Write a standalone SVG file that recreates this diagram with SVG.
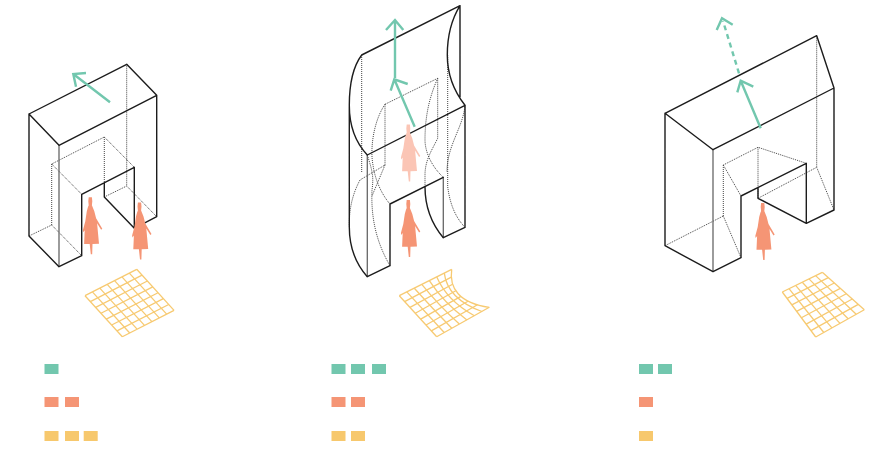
<svg xmlns="http://www.w3.org/2000/svg" width="871" height="453" viewBox="0 0 871 453">
<style>
.s{fill:none;stroke:#1c1c1c;stroke-width:1.4;stroke-linejoin:round;stroke-linecap:round}
.g{fill:none;stroke:#666;stroke-width:1.3}
.d{fill:none;stroke:#444;stroke-width:1;stroke-dasharray:1 1}
.a{fill:none;stroke:#72c7ae;stroke-width:2.4;stroke-linecap:butt;stroke-linejoin:miter}
.ad{stroke-dasharray:5 4}
.y{fill:none;stroke:#f7ca72;stroke-width:1.3;stroke-linejoin:round}
.gr{fill:#72c7ae}.or{fill:#f59575}.ye{fill:#f7c86d}
.p{fill:#f59575}
</style>
<defs>
<path id="person" d="M-1.6,0L1.6,0L2,4L1.6,8L2.4,10L4,14L5.8,21L12,31.5L10.8,32.5L6.8,26L8.7,46.5L2.2,46.8L1.9,57L.5,57L-.6,46.8L-6.2,46.8L-5.6,33L-7,35L-7.4,33L-5,24L-3.5,14L-2.4,10L-1.6,8L-2,4Z"/>
</defs>

<g id="mass-1">
<path class="d" d="M51.7,164L104.3,137L134.3,167.3M51.7,164L81.7,194.3M51.7,164V225M104.3,137V182.7M29,236L51.7,225L81.7,255.7M126.7,64.3V186M104.3,197L126.7,186L156.7,216.7"/>
<path class="g" d="M59,145.3V266.7"/>
<path class="s" d="M29,114L126.7,64.3L156.7,95.3L59,145.3ZM29,114V236L59,266.7L81.7,255.7V194.3L134.3,167.3V228.3L104.3,197V182.7M134.3,228.3L156.7,216.7V95.3"/>
</g>
<g id="people-1">
<use href="#person" class="p" x="90.3" y="197.3"/>
<use href="#person" class="p" x="139.5" y="202.5"/>
</g>
<path id="grid-1" class="y" vector-effect="non-scaling-stroke" transform="matrix(7.39 -3.77 5.33 5.86 85 295.7)" d="M0,0H7M0,1H7M0,2H7M0,3H7M0,4H7M0,5H7M0,6H7M0,7H7M0,0V7M1,0V7M2,0V7M3,0V7M4,0V7M5,0V7M6,0V7M7,0V7"/>

<g id="mass-2">
<path class="d" d="M361.7,55V173M385,104.3L437.7,78.3M385,104.3V165L360,180M385,104.3C373,122 370,150 373,165C375,180 382,195 390,204M437.7,78.3V138.3C432,150 425,160 425,175V186M437.7,78.3C428,100 425,120 425,140C425,150 430,165 443.3,177.3M447.7,55V186.7C450,205 456,218 465,227.3M465,105.3C463,128 447,145 447,172M367.3,155C372,170 374,176 372,190C371,215 375,240 390,265.7M360,180C352,195 349,210 349.3,226.7M385,165L372,196"/>
<path class="g" d="M367.3,155V276.7M443.3,177.3V237.7"/>
<path class="s" d="M361.7,55L460,5.7M465,105.3L367.3,155M361.7,55C352,68 349.3,85 349.3,105.3C349.3,125 355,142 367.3,155M460,5.7C450,22 447.3,38 447.3,55C447.3,75 453,90 465,105.3M460,5.7V97M465,105.3V227.3L443.3,237.7M349.3,105.3V226.7C349.3,245 355,263 367.3,276.7L390,265.7V204L443.3,177.3M425,186.7C425,205 431,223 443.3,237.7"/>
</g>
<g id="people-2">
<use href="#person" fill="#fbc5b5" x="408.3" y="124.5"/>
<use href="#person" class="p" x="408.3" y="200"/>
</g>
<g id="grid-2" class="y">
<path d="M399.3,295.7L451.7,269.3M404.6,301.6L451.3,277.1M410,307.4L452.6,284.2M415.3,313.3L455.8,290.8M420.7,319.1L460.9,296.4M426,325L468,301.2M431.3,330.9L477.5,304.8M436.7,336.7L489.3,307.3"/>
<path d="M399.3,295.7L436.7,336.7M406.8,291.9L444.2,332.5M414.3,288.2Q432.5,308.4 451.8,328.3M421.8,284.4Q438.5,305.1 459.3,324.1M429.3,280.6Q443.4,302.3 466.9,319.9M436.8,276.9Q446.6,300.1 474.4,315.7M444.3,273.1Q447.4,298.8 481.9,311.5M451.7,269.3C449,288 459,303 489.3,307.3"/>
</g>

<g id="mass-3">
<path class="d" d="M723.3,165L758,147.3L806.3,163.3M723.3,165L741,196M723.3,165V216M665,245.7L723.3,216L741,257.7M758,147.3V198.3M816.7,35.7V167.3M758,198.3L816.7,167.3L834,210"/>
<path class="g" d="M713,149.7V271.7"/>
<path class="s" d="M665,113.3L816.7,35.7L834,88L713,149.7ZM665,113.3V245.7L713,271.7L741,257.7V196L806.3,163.3V223.3L758,198.3V188.3M806.3,223.3L834,210V88"/>
</g>
<g id="people-3">
<use href="#person" class="p" x="762.7" y="203"/>
</g>
<g id="grid-3" class="y">
<path d="M782.3,292L815.7,337M789,288.7L823.8,332.5M795.6,285.4L831.9,327.9M802.3,282.2L840,323.4M809,278.9L848.1,318.8M815.6,275.6L856.2,314.3M822.3,272.3L864.3,309.7"/>
<path d="M782.3,292L822.3,272.3M787.1,298.4L828.3,277.6M791.8,304.9L834.3,283M796.6,311.3L840.3,288.3M801.4,317.7L846.3,293.7M806.2,324.1L852.3,299M810.9,330.6L858.3,304.4M815.7,337L864.3,309.7"/>
</g>

<g id="connectors">
<path class="a" d="M110,102.3L73.3,74M86,73L73.3,74L76,86.7"/>
<path class="a" d="M395,78V20M386,30L395,20L403.3,30"/>
<path class="a" d="M414.7,126.7L394.3,79.3M407.7,84L394.3,79.3L390.7,90.7"/>
<path class="a" d="M760.7,128.3L740.7,80.7M753.3,86.7L740.7,80.7L737.3,92.3"/>
<path class="a ad" d="M739,73.3L723,21"/>
<path class="a" d="M732.7,24.7L722,18.3L716.7,30"/>
</g>

<g id="legend-1">
<rect class="gr" x="44.5" y="364" width="14" height="10"/>
<rect class="or" x="44.5" y="397" width="14" height="10"/>
<rect class="or" x="65" y="397" width="14" height="10"/>
<rect class="ye" x="44.5" y="431" width="14" height="10"/>
<rect class="ye" x="65" y="431" width="14" height="10"/>
<rect class="ye" x="83.7" y="431" width="14" height="10"/>
</g>
<g id="legend-2">
<rect class="gr" x="331.5" y="364" width="14" height="10"/>
<rect class="gr" x="351" y="364" width="14" height="10"/>
<rect class="gr" x="372" y="364" width="14" height="10"/>
<rect class="or" x="331.5" y="397" width="14" height="10"/>
<rect class="or" x="351" y="397" width="14" height="10"/>
<rect class="ye" x="331.5" y="431" width="14" height="10"/>
<rect class="ye" x="351" y="431" width="14" height="10"/>
</g>
<g id="legend-3">
<rect class="gr" x="639" y="364" width="14" height="10"/>
<rect class="gr" x="658" y="364" width="14" height="10"/>
<rect class="or" x="639" y="397" width="14" height="10"/>
<rect class="ye" x="639" y="431" width="14" height="10"/>
</g>
</svg>
